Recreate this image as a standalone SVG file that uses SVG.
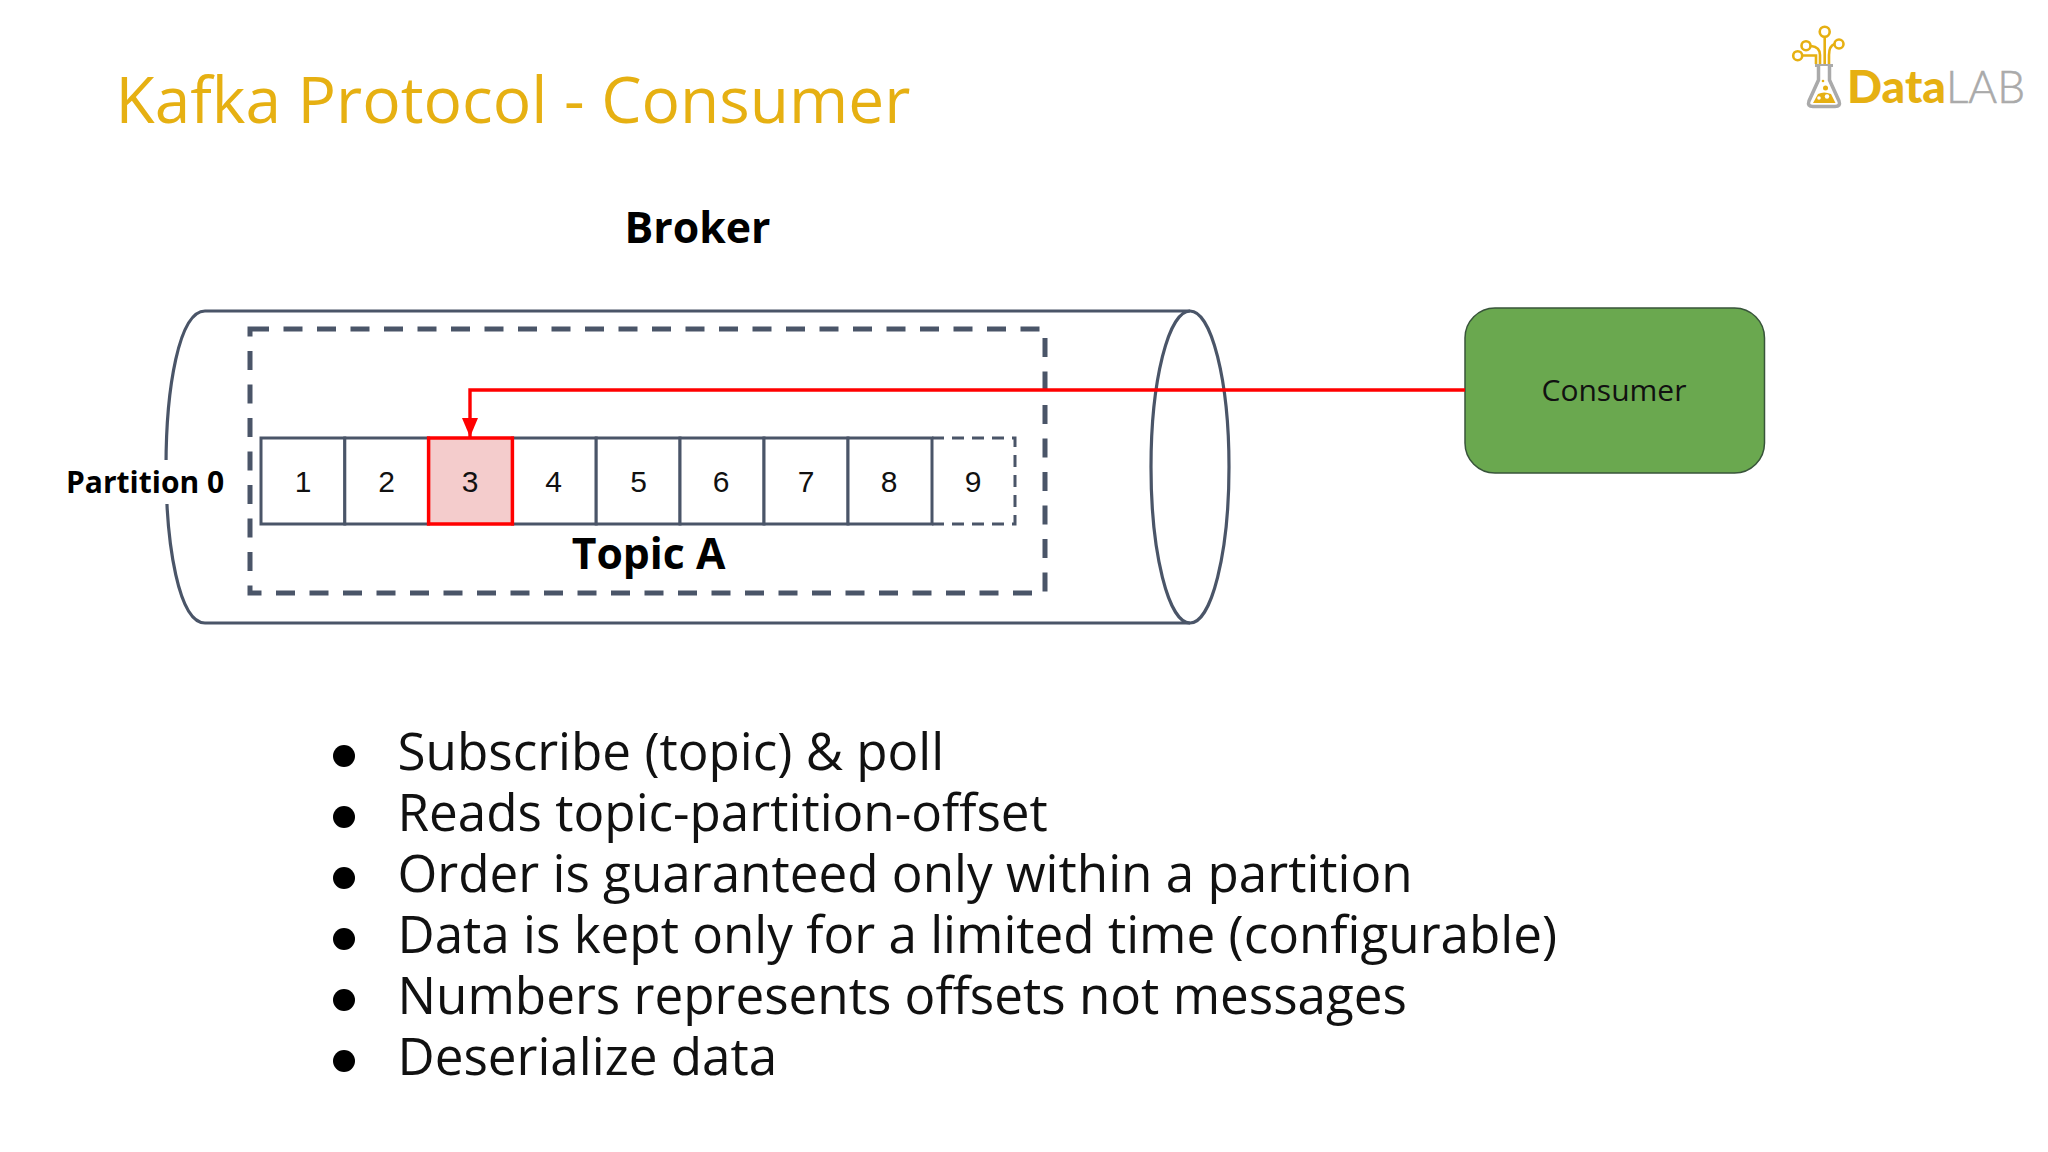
<svg xmlns="http://www.w3.org/2000/svg" width="2048" height="1152" viewBox="0 0 2048 1152">
<style>
.os{font-family:"Open Sans","Noto Sans",sans-serif}
.b{font-weight:700;fill:#000}
.cyl{fill:none;stroke:#4a5568;stroke-width:3.2}
.cell{fill:#fff;stroke:#4a5568;stroke-width:3}
.num{font-family:"Liberation Sans",Arial,sans-serif;font-size:30px;fill:#111;text-anchor:middle}
.li{font-family:"Open Sans","Noto Sans",sans-serif;font-size:51.2px;fill:#111}
.g{fill:none;stroke:#e6b012;stroke-width:2.6}
.dot{fill:#000}
</style>
<defs><marker id="ah" markerUnits="userSpaceOnUse" markerWidth="20" markerHeight="18" refX="19" refY="8" orient="auto"><path d="M0 0L19 8L0 16Z" fill="#f00"/></marker></defs>
<rect width="2048" height="1152" fill="#fff"/>
<text class="os" x="115.500" y="123" font-size="64" fill="#e6b012">Kafka Protocol - Consumer</text>
<g id="logo">
<circle class="g" cx="1824.700" cy="31.700" r="5"/><circle class="g" cx="1806" cy="45.700" r="4.500"/><circle class="g" cx="1839" cy="44" r="4.500"/><circle class="g" cx="1797.700" cy="55.700" r="4.500"/>
<path class="g" d="M1824.700 37V64M1811 46Q1820 47 1820 55V64M1834.500 44Q1829 46 1829 55V64M1802.500 55.500H1816V64"/>
<path d="M1815 65.500H1833" stroke="#aaa" stroke-width="3" fill="none"/>
<path d="M1818.500 66V80L1809 101Q1807 106.500 1813 106.500H1835Q1841 106.500 1839 101L1829.500 80V66" fill="#fff" stroke="#aaa" stroke-width="3.500"/>
<path d="M1813 103L1818 94Q1824 91 1831 94L1835.500 103Z" fill="#e6b012"/>
<circle cx="1825.500" cy="88" r="2.500" fill="#e6b012"/><circle cx="1823" cy="81" r="1.300" fill="#e6b012"/>
<circle cx="1819" cy="98" r="1.800" fill="#fff"/><circle cx="1827" cy="96.500" r="2.200" fill="#fff"/>
<text x="1847" y="103" font-family="Lato,sans-serif" font-weight="900" font-size="46" fill="#e6b012" textLength="99" lengthAdjust="spacingAndGlyphs">Data</text>
<text x="1946" y="103" font-family="Lato,sans-serif" font-weight="300" font-size="46" fill="#aaa" stroke="#aaa" stroke-width=".6" textLength="79" lengthAdjust="spacingAndGlyphs">LAB</text>
</g>
<text class="os b" x="697.500" y="243" font-size="42.800" text-anchor="middle">Broker</text>
<g id="broker">
<path class="cyl" d="M1190 311H205C179 311 166 388 166 467C166 546 179 623 205 623H1190"/>
<ellipse class="cyl" cx="1190" cy="467" rx="39" ry="156"/>
</g>
<g id="topic">
<rect x="250" y="329" width="795" height="264" fill="none" stroke="#4a5568" stroke-width="5" stroke-dasharray="19 14.500"/>
</g>
<g id="partition">
<path d="M932 438H1015V524H932" fill="#fff" stroke="#4a5568" stroke-width="3" stroke-dasharray="12 8"/>
<rect class="cell" x="261" y="438" width="83.800" height="86"/>
<rect class="cell" x="344.800" y="438" width="83.800" height="86"/>
<rect class="cell" x="512.400" y="438" width="83.800" height="86"/>
<rect class="cell" x="596.200" y="438" width="83.800" height="86"/>
<rect class="cell" x="680" y="438" width="84" height="86"/>
<rect class="cell" x="764" y="438" width="84" height="86"/>
<rect class="cell" x="848" y="438" width="84" height="86"/>
<rect x="428.600" y="438" width="83.800" height="86" fill="#f4cccc" stroke="#f00" stroke-width="3.500"/>
<text class="num" x="303" y="492">1</text><text class="num" x="386.600" y="492">2</text><text class="num" x="470" y="492">3</text><text class="num" x="553.700" y="492">4</text><text class="num" x="638.600" y="492">5</text><text class="num" x="721" y="492">6</text><text class="num" x="806" y="492">7</text><text class="num" x="889" y="492">8</text><text class="num" x="973" y="492">9</text>
</g>
<rect x="64" y="460" width="161" height="44" fill="#fff"/>
<text class="os b" x="66" y="492.500" font-size="30">Partition 0</text>
<text class="os b" x="648.500" y="568.500" font-size="42.700" text-anchor="middle">Topic A</text>
<g id="consumer">
<rect x="1465" y="308" width="299.500" height="165" rx="30" fill="#6aa84f" stroke="#38543a" stroke-width="1.500"/>
<text class="os" x="1614" y="401" font-size="30" text-anchor="middle" fill="#111">Consumer</text>
</g>
<g id="connectors">
<path d="M1465 390H470V437" fill="none" stroke="#f00" stroke-width="3.400" marker-end="url(#ah)"/>
</g>
<g id="bullets">
<circle class="dot" cx="344" cy="756" r="11"/><circle class="dot" cx="344" cy="817" r="11"/><circle class="dot" cx="344" cy="878" r="11"/><circle class="dot" cx="344" cy="939" r="11"/><circle class="dot" cx="344" cy="1000" r="11"/><circle class="dot" cx="344" cy="1061" r="11"/>
<text class="li" x="397.500" y="770">Subscribe (topic) &amp; poll</text>
<text class="li" x="397.500" y="831">Reads topic-partition-offset</text>
<text class="li" x="397.500" y="892">Order is guaranteed only within a partition</text>
<text class="li" x="397.500" y="953">Data is kept only for a limited time (configurable)</text>
<text class="li" x="397.500" y="1014">Numbers represents offsets not messages</text>
<text class="li" x="397.500" y="1075">Deserialize data</text>
</g>
</svg>
